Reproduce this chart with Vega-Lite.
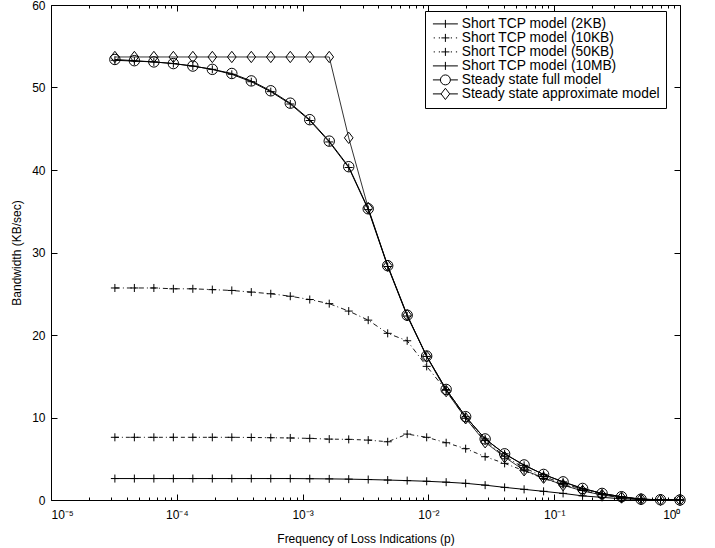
{
  "$schema": "https://vega.github.io/schema/vega-lite/v6.json",
  "width": 629,
  "height": 495,
  "autosize": {"type": "none"},
  "padding": {"left": 51, "top": 5, "right": 35, "bottom": 48},
  "background": "white",
  "config": {
    "font": "Liberation Sans",
    "view": {"stroke": "black", "strokeWidth": 1},
    "axis": {"grid": false, "ticks": true, "zindex": 1, "domainColor": "black", "tickColor": "black", "tickOpacity": 1, "labelColor": "black", "titleColor": "black", "labelFont": "Liberation Sans", "titleFont": "Liberation Sans", "labelFontSize": 12, "titleFontSize": 12, "titleFontWeight": "normal", "tickWidth": 1}
  },
  "data": {
    "values": [
      {"p": 0.0000321990576, "Short TCP model (2KB)": 2.6, "Short TCP model (10KB)": 7.6, "Short TCP model (50KB)": 25.7, "Short TCP model (10MB)": 53.3, "Steady state full model": 53.4, "Steady state approximate model": 53.7},
      {"p": 0.0000459986537, "Short TCP model (2KB)": 2.6, "Short TCP model (10KB)": 7.6, "Short TCP model (50KB)": 25.7, "Short TCP model (10MB)": 53.2, "Steady state full model": 53.25, "Steady state approximate model": 53.7},
      {"p": 0.0000657123624, "Short TCP model (2KB)": 2.6, "Short TCP model (10KB)": 7.6, "Short TCP model (50KB)": 25.7, "Short TCP model (10MB)": 53.1, "Steady state full model": 53.1, "Steady state approximate model": 53.7},
      {"p": 0.0000938748034, "Short TCP model (2KB)": 2.6, "Short TCP model (10KB)": 7.6, "Short TCP model (50KB)": 25.6, "Short TCP model (10MB)": 52.9, "Steady state full model": 52.9, "Steady state approximate model": 53.7},
      {"p": 0.000134106862, "Short TCP model (2KB)": 2.6, "Short TCP model (10KB)": 7.6, "Short TCP model (50KB)": 25.6, "Short TCP model (10MB)": 52.6, "Steady state full model": 52.6, "Steady state approximate model": 53.7},
      {"p": 0.000191581231, "Short TCP model (2KB)": 2.6, "Short TCP model (10KB)": 7.6, "Short TCP model (50KB)": 25.5, "Short TCP model (10MB)": 52.2, "Steady state full model": 52.2, "Steady state approximate model": 53.7},
      {"p": 0.000273687473, "Short TCP model (2KB)": 2.6, "Short TCP model (10KB)": 7.6, "Short TCP model (50KB)": 25.4, "Short TCP model (10MB)": 51.6, "Steady state full model": 51.7, "Steady state approximate model": 53.7},
      {"p": 0.000390982105, "Short TCP model (2KB)": 2.6, "Short TCP model (10KB)": 7.58, "Short TCP model (50KB)": 25.2, "Short TCP model (10MB)": 50.7, "Steady state full model": 50.8, "Steady state approximate model": 53.7},
      {"p": 0.000558545864, "Short TCP model (2KB)": 2.6, "Short TCP model (10KB)": 7.55, "Short TCP model (50KB)": 25.0, "Short TCP model (10MB)": 49.5, "Steady state full model": 49.6, "Steady state approximate model": 53.7},
      {"p": 0.000797922663, "Short TCP model (2KB)": 2.6, "Short TCP model (10KB)": 7.52, "Short TCP model (50KB)": 24.7, "Short TCP model (10MB)": 48.0, "Steady state full model": 48.1, "Steady state approximate model": 53.7},
      {"p": 0.00113988952, "Short TCP model (2KB)": 2.58, "Short TCP model (10KB)": 7.47, "Short TCP model (50KB)": 24.3, "Short TCP model (10MB)": 46.0, "Steady state full model": 46.1, "Steady state approximate model": 53.7},
      {"p": 0.0016284136, "Short TCP model (2KB)": 2.56, "Short TCP model (10KB)": 7.38, "Short TCP model (50KB)": 23.8, "Short TCP model (10MB)": 43.4, "Steady state full model": 43.5, "Steady state approximate model": 53.7},
      {"p": 0.00232630514, "Short TCP model (2KB)": 2.53, "Short TCP model (10KB)": 7.35, "Short TCP model (50KB)": 22.9, "Short TCP model (10MB)": 40.3, "Steady state full model": 40.4, "Steady state approximate model": 43.9},
      {"p": 0.00332329306, "Short TCP model (2KB)": 2.48, "Short TCP model (10KB)": 7.26, "Short TCP model (50KB)": 21.8, "Short TCP model (10MB)": 35.2, "Steady state full model": 35.3, "Steady state approximate model": 35.4},
      {"p": 0.00474756151, "Short TCP model (2KB)": 2.42, "Short TCP model (10KB)": 7.06, "Short TCP model (50KB)": 20.2, "Short TCP model (10MB)": 28.3, "Steady state full model": 28.4, "Steady state approximate model": 28.4},
      {"p": 0.00678223073, "Short TCP model (2KB)": 2.35, "Short TCP model (10KB)": 7.99, "Short TCP model (50KB)": 19.3, "Short TCP model (10MB)": 22.3, "Steady state full model": 22.4, "Steady state approximate model": 22.4},
      {"p": 0.00968890104, "Short TCP model (2KB)": 2.27, "Short TCP model (10KB)": 7.6, "Short TCP model (50KB)": 16.2, "Short TCP model (10MB)": 17.4, "Steady state full model": 17.45, "Steady state approximate model": 17.4},
      {"p": 0.0138412872, "Short TCP model (2KB)": 2.16, "Short TCP model (10KB)": 6.94, "Short TCP model (50KB)": 13.3, "Short TCP model (10MB)": 13.4, "Steady state full model": 13.4, "Steady state approximate model": 13.2},
      {"p": 0.0197732674, "Short TCP model (2KB)": 2.02, "Short TCP model (10KB)": 6.22, "Short TCP model (50KB)": 9.9, "Short TCP model (10MB)": 10.1, "Steady state full model": 10.1, "Steady state approximate model": 9.9},
      {"p": 0.0282475249, "Short TCP model (2KB)": 1.8, "Short TCP model (10KB)": 5.25, "Short TCP model (50KB)": 7.2, "Short TCP model (10MB)": 7.4, "Steady state full model": 7.4, "Steady state approximate model": 7.0},
      {"p": 0.040353607, "Short TCP model (2KB)": 1.53, "Short TCP model (10KB)": 4.44, "Short TCP model (50KB)": 5.3, "Short TCP model (10MB)": 5.6, "Steady state full model": 5.6, "Steady state approximate model": 5.2},
      {"p": 0.05764801, "Short TCP model (2KB)": 1.29, "Short TCP model (10KB)": 3.55, "Short TCP model (50KB)": 3.9, "Short TCP model (10MB)": 4.2, "Steady state full model": 4.25, "Steady state approximate model": 3.6},
      {"p": 0.0823543, "Short TCP model (2KB)": 1.05, "Short TCP model (10KB)": 2.6, "Short TCP model (50KB)": 2.85, "Short TCP model (10MB)": 3.1, "Steady state full model": 3.1, "Steady state approximate model": 2.7},
      {"p": 0.117649, "Short TCP model (2KB)": 0.8, "Short TCP model (10KB)": 1.85, "Short TCP model (50KB)": 2.0, "Short TCP model (10MB)": 2.2, "Steady state full model": 2.2, "Steady state approximate model": 1.8},
      {"p": 0.16807, "Short TCP model (2KB)": 0.5, "Short TCP model (10KB)": 1.15, "Short TCP model (50KB)": 1.3, "Short TCP model (10MB)": 1.4, "Steady state full model": 1.4, "Steady state approximate model": 1.1},
      {"p": 0.2401, "Short TCP model (2KB)": 0.32, "Short TCP model (10KB)": 0.65, "Short TCP model (50KB)": 0.7, "Short TCP model (10MB)": 0.8, "Steady state full model": 0.8, "Steady state approximate model": 0.6},
      {"p": 0.343, "Short TCP model (2KB)": 0.15, "Short TCP model (10KB)": 0.3, "Short TCP model (50KB)": 0.35, "Short TCP model (10MB)": 0.4, "Steady state full model": 0.4, "Steady state approximate model": 0.3},
      {"p": 0.49, "Short TCP model (2KB)": 0.05, "Short TCP model (10KB)": 0.08, "Short TCP model (50KB)": 0.1, "Short TCP model (10MB)": 0.1, "Steady state full model": 0.1, "Steady state approximate model": 0.1},
      {"p": 0.7, "Short TCP model (2KB)": 0.01, "Short TCP model (10KB)": 0.02, "Short TCP model (50KB)": 0.02, "Short TCP model (10MB)": 0.03, "Steady state full model": 0.03, "Steady state approximate model": 0.02},
      {"p": 1, "Short TCP model (2KB)": 0, "Short TCP model (10KB)": 0, "Short TCP model (50KB)": 0, "Short TCP model (10MB)": 0, "Steady state full model": 0, "Steady state approximate model": 0}
    ]
  },
  "transform": [
    {"fold": ["Short TCP model (2KB)", "Short TCP model (10KB)", "Short TCP model (50KB)", "Short TCP model (10MB)", "Steady state full model", "Steady state approximate model"], "as": ["series", "bw"]}
  ],
  "layer": [
    {
      "transform": [{"filter": {"field": "series", "oneOf": ["Short TCP model (2KB)", "Short TCP model (10MB)", "Steady state full model"]}}],
      "mark": {"type": "line", "color": "black", "strokeWidth": 1},
      "encoding": {
        "x": {"field": "p", "type": "quantitative", "scale": {"type": "log", "domain": [0.00001, 1], "nice": false},
          "axis": {"orient": "bottom", "values": [0.00001, 0.0001, 0.001, 0.01, 0.1, 1], "offset": -6, "tickSize": 6, "labelPadding": 9, "domain": false, "title": "Frequency of Loss Indications (p)", "titlePadding": 13,
            "labelExpr": "datum.value > 0.5 ? '10⁰' : datum.value > 0.05 ? '10⁻¹' : datum.value > 0.005 ? '10⁻²' : datum.value > 0.0005 ? '10⁻³' : datum.value > 0.00005 ? '10⁻⁴' : '10⁻⁵'"}},
        "y": {"field": "bw", "type": "quantitative", "scale": {"domain": [0, 60], "nice": false},
          "axis": {"orient": "left", "values": [0, 10, 20, 30, 40, 50, 60], "offset": -6, "tickSize": 6, "labelPadding": 6, "domain": false, "title": "Bandwidth (KB/sec)", "titlePadding": 8}},
        "detail": {"field": "series", "type": "nominal"}
      }
    },
    {
      "transform": [{"filter": {"field": "series", "equal": "Steady state approximate model"}}],
      "mark": {"type": "line", "color": "black", "strokeWidth": 0.8},
      "encoding": {
        "x": {"field": "p", "type": "quantitative", "axis": null},
        "y": {"field": "bw", "type": "quantitative", "axis": null}
      }
    },
    {
      "transform": [{"filter": {"field": "series", "equal": "Short TCP model (10KB)"}}],
      "mark": {"type": "line", "color": "black", "strokeWidth": 0.9, "strokeDash": [4, 3, 1, 3]},
      "encoding": {
        "x": {"field": "p", "type": "quantitative", "axis": null},
        "y": {"field": "bw", "type": "quantitative", "axis": null}
      }
    },
    {
      "transform": [{"filter": {"field": "series", "equal": "Short TCP model (50KB)"}}],
      "mark": {"type": "line", "color": "black", "strokeWidth": 0.9, "strokeDash": [5, 3, 1, 3]},
      "encoding": {
        "x": {"field": "p", "type": "quantitative", "axis": null},
        "y": {"field": "bw", "type": "quantitative", "axis": null}
      }
    },
    {
      "transform": [{"filter": {"field": "series", "oneOf": ["Short TCP model (2KB)", "Short TCP model (10KB)", "Short TCP model (50KB)", "Short TCP model (10MB)"]}}],
      "mark": {"type": "point", "filled": false, "color": "black", "strokeWidth": 1, "opacity": 1, "size": 121, "shape": "M-0.73,0L0.73,0M0,-0.73L0,0.73"},
      "encoding": {
        "x": {"field": "p", "type": "quantitative",
          "axis": {"orient": "bottom", "values": [0.00002, 0.00003, 0.00004, 0.00005, 0.00006, 0.00007, 0.00008, 0.00009, 0.0002, 0.0003, 0.0004, 0.0005, 0.0006, 0.0007, 0.0008, 0.0009, 0.002, 0.003, 0.004, 0.005, 0.006, 0.007, 0.008, 0.009, 0.02, 0.03, 0.04, 0.05, 0.06, 0.07, 0.08, 0.09, 0.2, 0.3, 0.4, 0.5, 0.6, 0.7, 0.8, 0.9], "offset": -3, "tickSize": 3, "labels": false, "domain": false, "title": null}},
        "y": {"field": "bw", "type": "quantitative",
          "axis": {"orient": "right", "values": [0, 10, 20, 30, 40, 50, 60], "offset": -6, "tickSize": 6, "labels": false, "domain": false, "title": null}}
      }
    },
    {
      "transform": [{"filter": {"field": "series", "equal": "Steady state full model"}}],
      "mark": {"type": "point", "filled": false, "color": "black", "strokeWidth": 1, "opacity": 1, "size": 121, "shape": "M-0.95,0A0.95,0.95 0 1,0 0.95,0A0.95,0.95 0 1,0 -0.95,0Z"},
      "encoding": {
        "x": {"field": "p", "type": "quantitative", "axis": null},
        "y": {"field": "bw", "type": "quantitative", "axis": null}
      }
    },
    {
      "transform": [{"filter": {"field": "series", "equal": "Steady state approximate model"}}],
      "mark": {"type": "point", "filled": false, "color": "black", "strokeWidth": 1, "opacity": 1, "size": 121, "shape": "M0,-1.03L0.79,0L0,1.03L-0.79,0Z"},
      "encoding": {
        "x": {"field": "p", "type": "quantitative", "axis": null},
        "y": {"field": "bw", "type": "quantitative", "axis": null}
      }
    },
    {
      "mark": {"type": "point", "filled": false, "color": "black", "strokeWidth": 1, "size": 0},
      "encoding": {
        "x": {"field": "p", "type": "quantitative",
          "axis": {"orient": "top", "values": [0.00001, 0.0001, 0.001, 0.01, 0.1, 1], "offset": -6, "tickSize": 6, "labels": false, "domain": false, "title": null}},
        "y": {"field": "bw", "type": "quantitative", "axis": null},
        "shape": {"field": "series", "type": "nominal",
          "scale": {"domain": ["Short TCP model (2KB)", "Short TCP model (10KB)", "Short TCP model (50KB)", "Short TCP model (10MB)", "Steady state full model", "Steady state approximate model"],
            "range": [
              "M-2.08,0L2.08,0M0,-0.67L0,0.67",
              "M-1.95,0L-1.75,0M-1.1,0L-0.9,0M0.9,0L1.1,0M1.75,0L1.95,0M-0.67,0L0.67,0M0,-0.67L0,0.67",
              "M-1.95,0L-1.75,0M-1.1,0L-0.9,0M0.9,0L1.1,0M1.75,0L1.95,0M-0.67,0L0.67,0M0,-0.67L0,0.67",
              "M-2.08,0L2.08,0M0,-0.67L0,0.67",
              "M-2.08,0L-0.83,0M0.83,0L2.08,0M-0.83,0A0.83,0.83 0 1,0 0.83,0A0.83,0.83 0 1,0 -0.83,0",
              "M-2.08,0L-0.72,0M0.72,0L2.08,0M0,-0.94L0.72,0L0,0.94L-0.72,0Z"]},
          "legend": {
            "title": null, "orient": "none", "legendX": 374, "legendY": 6, "padding": 6, "symbolOffset": 7.5,
            "fillColor": "white", "strokeColor": "black", "labelFont": "Liberation Sans", "labelFontSize": 13.8, "labelColor": "black", "labelLimit": 400,
            "symbolSize": 144, "symbolStrokeWidth": 1, "symbolStrokeColor": "black", "symbolFillColor": "transparent", "symbolOpacity": 1, "rowPadding": -1.5, "labelOffset": 9.5
          }}
      }
    },
    {
      "mark": {"type": "point", "opacity": 0},
      "encoding": {
        "x": {"field": "p", "type": "quantitative",
          "axis": {"orient": "top", "values": [0.00002, 0.00003, 0.00004, 0.00005, 0.00006, 0.00007, 0.00008, 0.00009, 0.0002, 0.0003, 0.0004, 0.0005, 0.0006, 0.0007, 0.0008, 0.0009, 0.002, 0.003, 0.004, 0.005, 0.006, 0.007, 0.008, 0.009, 0.02, 0.03, 0.04, 0.05, 0.06, 0.07, 0.08, 0.09, 0.2, 0.3, 0.4, 0.5, 0.6, 0.7, 0.8, 0.9], "offset": -3, "tickSize": 3, "labels": false, "domain": false, "title": null}},
        "y": {"field": "bw", "type": "quantitative", "axis": null}
      }
    }
  ],
  "resolve": {"axis": {"x": "independent", "y": "independent"}}
}
